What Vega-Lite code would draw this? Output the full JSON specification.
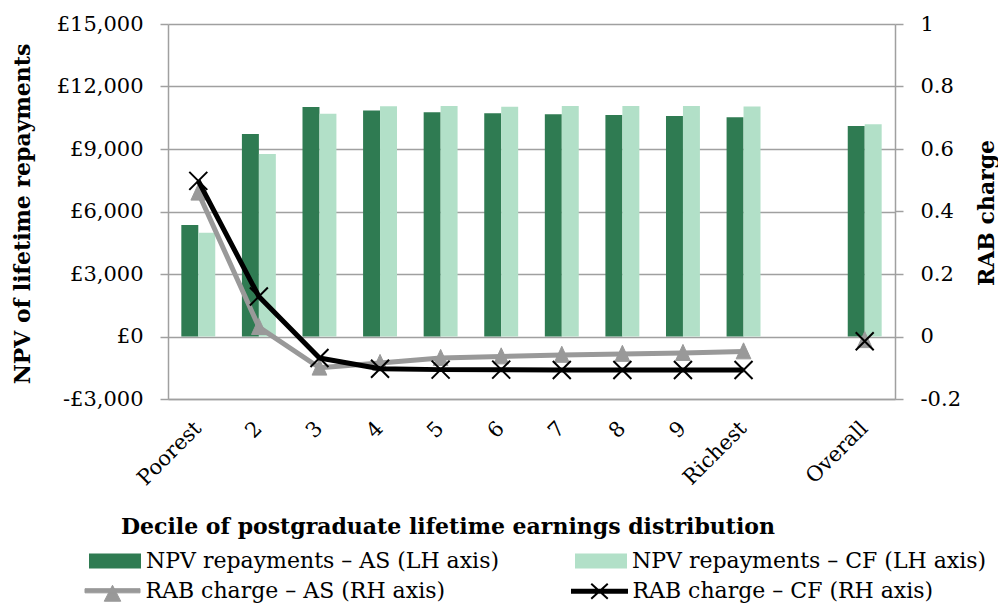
{
  "$schema": "https://vega.github.io/schema/vega-lite/v6.json",
  "width": 727,
  "height": 375,
  "autosize": {"type": "none"},
  "padding": {"left": 168, "top": 24, "right": 103, "bottom": 208},
  "background": "white",
  "config": {
    "font": "DejaVu Serif",
    "view": {"stroke": null},
    "axis": {"labelColor": "#000000", "titleColor": "#000000"},
    "legend": {"labelColor": "#000000"}
  },
  "datasets": {
    "npv": [
      {"cat": "Poorest", "series": "NPV repayments – AS (LH axis)", "value": 5350},
      {"cat": "Poorest", "series": "NPV repayments – CF (LH axis)", "value": 4980},
      {"cat": "2", "series": "NPV repayments – AS (LH axis)", "value": 9720},
      {"cat": "2", "series": "NPV repayments – CF (LH axis)", "value": 8760},
      {"cat": "3", "series": "NPV repayments – AS (LH axis)", "value": 11020},
      {"cat": "3", "series": "NPV repayments – CF (LH axis)", "value": 10690},
      {"cat": "4", "series": "NPV repayments – AS (LH axis)", "value": 10850},
      {"cat": "4", "series": "NPV repayments – CF (LH axis)", "value": 11050},
      {"cat": "5", "series": "NPV repayments – AS (LH axis)", "value": 10770},
      {"cat": "5", "series": "NPV repayments – CF (LH axis)", "value": 11060},
      {"cat": "6", "series": "NPV repayments – AS (LH axis)", "value": 10720},
      {"cat": "6", "series": "NPV repayments – CF (LH axis)", "value": 11030},
      {"cat": "7", "series": "NPV repayments – AS (LH axis)", "value": 10670},
      {"cat": "7", "series": "NPV repayments – CF (LH axis)", "value": 11070},
      {"cat": "8", "series": "NPV repayments – AS (LH axis)", "value": 10630},
      {"cat": "8", "series": "NPV repayments – CF (LH axis)", "value": 11060},
      {"cat": "9", "series": "NPV repayments – AS (LH axis)", "value": 10590},
      {"cat": "9", "series": "NPV repayments – CF (LH axis)", "value": 11060},
      {"cat": "Richest", "series": "NPV repayments – AS (LH axis)", "value": 10530},
      {"cat": "Richest", "series": "NPV repayments – CF (LH axis)", "value": 11040},
      {"cat": "Overall", "series": "NPV repayments – AS (LH axis)", "value": 10100},
      {"cat": "Overall", "series": "NPV repayments – CF (LH axis)", "value": 10190}
    ],
    "rab": [
      {"cat": "Poorest", "series": "RAB charge – AS (RH axis)", "seg": "deciles", "rab": 0.46},
      {"cat": "2", "series": "RAB charge – AS (RH axis)", "seg": "deciles", "rab": 0.03},
      {"cat": "3", "series": "RAB charge – AS (RH axis)", "seg": "deciles", "rab": -0.1},
      {"cat": "4", "series": "RAB charge – AS (RH axis)", "seg": "deciles", "rab": -0.085},
      {"cat": "5", "series": "RAB charge – AS (RH axis)", "seg": "deciles", "rab": -0.069},
      {"cat": "6", "series": "RAB charge – AS (RH axis)", "seg": "deciles", "rab": -0.064},
      {"cat": "7", "series": "RAB charge – AS (RH axis)", "seg": "deciles", "rab": -0.059},
      {"cat": "8", "series": "RAB charge – AS (RH axis)", "seg": "deciles", "rab": -0.056},
      {"cat": "9", "series": "RAB charge – AS (RH axis)", "seg": "deciles", "rab": -0.053},
      {"cat": "Richest", "series": "RAB charge – AS (RH axis)", "seg": "deciles", "rab": -0.048},
      {"cat": "Overall", "series": "RAB charge – AS (RH axis)", "seg": "overall", "rab": -0.012},
      {"cat": "Poorest", "series": "RAB charge – CF (RH axis)", "seg": "deciles", "rab": 0.498},
      {"cat": "2", "series": "RAB charge – CF (RH axis)", "seg": "deciles", "rab": 0.128},
      {"cat": "3", "series": "RAB charge – CF (RH axis)", "seg": "deciles", "rab": -0.069},
      {"cat": "4", "series": "RAB charge – CF (RH axis)", "seg": "deciles", "rab": -0.103},
      {"cat": "5", "series": "RAB charge – CF (RH axis)", "seg": "deciles", "rab": -0.106},
      {"cat": "6", "series": "RAB charge – CF (RH axis)", "seg": "deciles", "rab": -0.106},
      {"cat": "7", "series": "RAB charge – CF (RH axis)", "seg": "deciles", "rab": -0.107},
      {"cat": "8", "series": "RAB charge – CF (RH axis)", "seg": "deciles", "rab": -0.107},
      {"cat": "9", "series": "RAB charge – CF (RH axis)", "seg": "deciles", "rab": -0.107},
      {"cat": "Richest", "series": "RAB charge – CF (RH axis)", "seg": "deciles", "rab": -0.107},
      {"cat": "Overall", "series": "RAB charge – CF (RH axis)", "seg": "overall", "rab": -0.015}
    ]
  },
  "layer": [
    {
      "data": {"name": "npv"},
      "mark": {"type": "bar"},
      "encoding": {
        "x": {
          "field": "cat", "type": "nominal",
          "scale": {"domain": ["Poorest", "2", "3", "4", "5", "6", "7", "8", "9", "Richest", " ", "Overall"], "paddingInner": 0.44, "paddingOuter": 0.22},
          "axis": {
            "title": "Decile of postgraduate lifetime earnings distribution",
            "titleFontSize": 22, "titleFontWeight": "bold",
            "titleX": 279.5, "titleY": 134, "titleAlign": "center", "titleBaseline": "alphabetic", "titleAnchor": null,
            "labelAngle": -45, "labelAlign": "right", "labelBaseline": "middle",
            "labelFontSize": 21, "labelPadding": 26, "ticks": false,
            "domainColor": "#a0a0a0", "domainWidth": 1.5, "grid": false
          }
        },
        "xOffset": {"field": "series", "type": "nominal", "scale": {"paddingInner": 0, "paddingOuter": 0}},
        "y": {
          "field": "value", "type": "quantitative",
          "scale": {"domain": [-3000, 15000], "nice": false, "zero": false},
          "axis": {
            "orient": "left",
            "values": [-3000, 0, 3000, 6000, 9000, 12000, 15000],
            "labelExpr": "datum.value < 0 ? '-£' + format(-datum.value, ',') : '£' + format(datum.value, ',')",
            "labelFontSize": 21, "labelPadding": 17,
            "tickSize": 8, "tickColor": "#a0a0a0", "tickWidth": 1.5,
            "domainColor": "#a0a0a0", "domainWidth": 1.5,
            "grid": true, "gridColor": "#a0a0a0", "gridWidth": 1.5,
            "title": "NPV of lifetime repayments",
            "titleFontSize": 22, "titleFontWeight": "bold",
            "titleAngle": 270, "titleBaseline": "middle", "titleAlign": "center",
            "titleX": -146, "titleY": 189.5, "titleAnchor": null
          }
        },
        "fill": {
          "field": "series", "type": "nominal",
          "scale": {"domain": ["NPV repayments – AS (LH axis)", "NPV repayments – CF (LH axis)"], "range": ["#2f7b52", "#b2e0c8"]},
          "legend": {
            "title": null, "orient": "none", "legendX": -79, "legendY": 511,
            "direction": "horizontal", "columns": 2, "columnPadding": 75, "padding": 0,
            "labelFontSize": 22, "labelLimit": 0, "labelOffset": 5,
            "symbolSize": 2704, "symbolStrokeWidth": 0,
            "symbolType": "M-1,-0.288H1V0.288H-1Z"
          }
        }
      }
    },
    {
      "data": {"name": "rab"},
      "encoding": {
        "x": {"field": "cat", "type": "nominal", "scale": {"domain": ["Poorest", "2", "3", "4", "5", "6", "7", "8", "9", "Richest", " ", "Overall"]}},
        "y": {
          "field": "rab", "type": "quantitative",
          "scale": {"domain": [-0.2, 1], "nice": false, "zero": false},
          "axis": {
            "orient": "right",
            "values": [-0.2, 0, 0.2, 0.4, 0.6, 0.8, 1],
            "labelExpr": "replace(format(datum.value, '.1~f'), '−', '-')",
            "labelFontSize": 21, "labelPadding": 17,
            "tickSize": 8, "tickColor": "#a0a0a0", "tickWidth": 1.5,
            "domainColor": "#a0a0a0", "domainWidth": 1.5, "grid": false,
            "title": "RAB charge",
            "titleFontSize": 22, "titleFontWeight": "bold",
            "titleAngle": 270, "titleBaseline": "middle", "titleAlign": "center",
            "titleX": 91, "titleY": 188.5, "titleAnchor": null
          }
        }
      },
      "layer": [
        {
          "transform": [{"filter": "datum.series == 'RAB charge – AS (RH axis)'"}],
          "mark": {"type": "line", "strokeWidth": 5, "strokeJoin": "round"},
          "encoding": {
            "detail": {"field": "seg", "type": "nominal"},
            "stroke": {
              "field": "series", "type": "nominal",
              "scale": {"domain": ["RAB charge – AS (RH axis)", "RAB charge – CF (RH axis)"], "range": ["#999999", "#000000"]},
              "legend": {
                "title": null, "orient": "none", "legendX": -81, "legendY": 555.5,
                "direction": "horizontal", "columns": 2, "columnPadding": 122, "padding": 0,
                "labelFontSize": 22, "labelLimit": 0, "labelOffset": 22, "symbolOffset": 14.5,
                "symbolSize": 3025,
                "encode": {
                  "symbols": {
                    "update": {
                      "shape": {"signal": "datum.value == 'RAB charge – AS (RH axis)' ? 'M-1,-0.075H1V0.075H-1ZM-0.3,0.38L0,-0.2L0.3,0.38Z' : 'M-1,-0.055H1V0.055H-1ZM-0.3,-0.27L0.3,0.27M-0.3,0.27L0.3,-0.27'"},
                      "fill": {"signal": "datum.value == 'RAB charge – AS (RH axis)' ? '#999999' : '#000000'"},
                      "stroke": {"signal": "datum.value == 'RAB charge – AS (RH axis)' ? '#999999' : '#000000'"},
                      "strokeWidth": {"signal": "datum.value == 'RAB charge – AS (RH axis)' ? 1 : 2"},
                      "opacity": {"value": 1},
                      "fillOpacity": {"value": 1},
                      "strokeOpacity": {"value": 1}
                    }
                  }
                }
              }
            }
          }
        },
        {
          "transform": [{"filter": "datum.series == 'RAB charge – AS (RH axis)'"}],
          "mark": {"type": "point", "shape": "M-0.85,0.85L0,-1L0.85,0.85Z", "filled": true, "fill": "#999999", "stroke": "#999999", "strokeWidth": 1, "size": 300, "opacity": 1}
        },
        {
          "transform": [{"filter": "datum.series == 'RAB charge – CF (RH axis)'"}],
          "mark": {"type": "line", "strokeWidth": 5, "strokeJoin": "round"},
          "encoding": {
            "detail": {"field": "seg", "type": "nominal"},
            "stroke": {"field": "series", "type": "nominal"}
          }
        },
        {
          "transform": [{"filter": "datum.series == 'RAB charge – CF (RH axis)'"}],
          "mark": {"type": "point", "shape": "M-1,-1L1,1M-1,1L1,-1", "filled": false, "stroke": "#000000", "strokeWidth": 2, "size": 324, "opacity": 1}
        }
      ]
    }
  ],
  "resolve": {"scale": {"y": "independent"}}
}
